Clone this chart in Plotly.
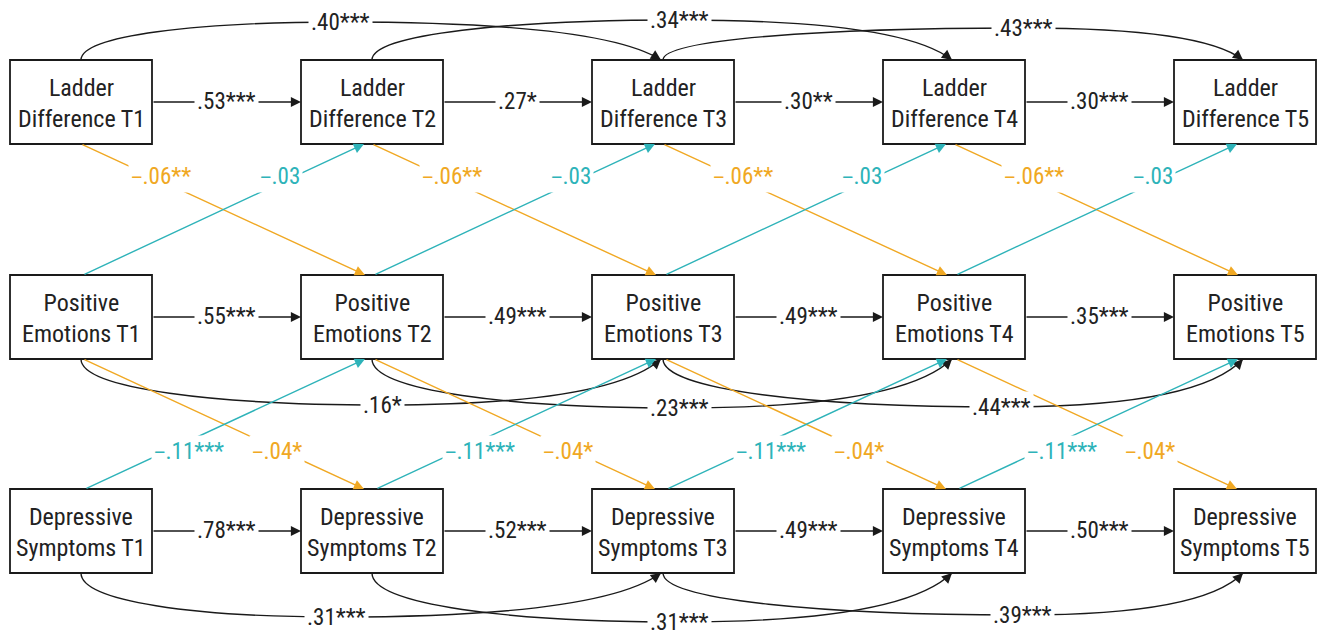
import plotly.graph_objects as go

# ---------------- data ----------------
constructs = ["Ladder<br>Difference", "Positive<br>Emotions", "Depressive<br>Symptoms"]
waves = ["T1", "T2", "T3", "T4", "T5"]

ladder_ar = [".53***", ".27*", ".30**", ".30***"]
positive_ar = [".55***", ".49***", ".49***", ".35***"]
depressive_ar = [".78***", ".52***", ".49***", ".50***"]

ladder_lag2 = [".40***", ".34***", ".43***"]
positive_lag2 = [".16*", ".23***", ".44***"]
depressive_lag2 = [".31***", ".31***", ".39***"]

ladder_to_positive = ["−.06**", "−.06**", "−.06**", "−.06**"]
positive_to_ladder = ["−.03", "−.03", "−.03", "−.03"]
positive_to_depressive = ["−.04*", "−.04*", "−.04*", "−.04*"]
depressive_to_positive = ["−.11***", "−.11***", "−.11***", "−.11***"]

# ---------------- layout / style ----------------
W, H = 1319, 635
COL_LEFT0, COL_STEP, BOX_W, BOX_H = 10, 291, 142, 84
ROW_TOP = [60, 275, 489]
BLACK = "#1a1a1a"
TEXT = "#222222"
ORANGE = "#F0A823"
TEAL = "#2EB3B9"
FONT = "Liberation Sans Narrow, Roboto Condensed, DejaVu Sans Condensed, Arial Narrow, sans-serif"
LW = 1.4

# lag-2 curve shape: (fraction of span where the flat part/label sits, depth beyond box edge)
lag2_shape = {
    0: [(0.447, 38), (0.53, 40), (0.622, 32)],
    1: [(0.52, 46), (0.53, 49), (0.584, 48)],
    2: [(0.44, 44), (0.53, 49), (0.62, 42)],
}


def box(r, c):
    x0 = COL_LEFT0 + c * COL_STEP
    y0 = ROW_TOP[r]
    return x0, y0, x0 + BOX_W, y0 + BOX_H


def cx(c):
    return COL_LEFT0 + c * COL_STEP + BOX_W / 2


shapes = []
arrows = []
labels = []


def arrow(tail, head, color):
    arrows.append(dict(
        x=head[0], y=head[1], ax=tail[0], ay=tail[1],
        xref="x", yref="y", axref="x", ayref="y",
        showarrow=True, arrowhead=2, arrowsize=1.45, arrowwidth=LW,
        arrowcolor=color, text="", standoff=0, startstandoff=0,
    ))


def fmt(text):
    # render the minus sign with a wider dash glyph
    return text.replace("−", '<span style="font-family:\'DejaVu Sans\';">–</span>')


def label(x, y, text, color, size=23):
    labels.append(dict(
        x=x, y=y, xref="x", yref="y", text=fmt(text), showarrow=False,
        font=dict(family=FONT, size=size, color=color),
        bgcolor="white", borderpad=2, xanchor="center", yanchor="middle",
    ))


# boxes
for r, name in enumerate(constructs):
    for c, w in enumerate(waves):
        x0, y0, x1, y1 = box(r, c)
        shapes.append(dict(type="rect", x0=x0, y0=y0, x1=x1, y1=y1, xref="x", yref="y",
                           line=dict(color=BLACK, width=1.8), fillcolor="white", layer="above"))
        labels.append(dict(
            x=(x0 + x1) / 2, y=(y0 + y1) / 2 + 1, xref="x", yref="y",
            text=f"{name} {w}", showarrow=False,
            font=dict(family=FONT, size=24, color=TEXT),
            xanchor="center", yanchor="middle",
        ))

# autoregressive paths
for r, coefs in enumerate([ladder_ar, positive_ar, depressive_ar]):
    for c, txt in enumerate(coefs):
        _, y0, x1, y1 = box(r, c)
        nx0 = box(r, c + 1)[0]
        yc = (y0 + y1) / 2
        arrow((x1, yc), (nx0, yc), BLACK)
        label((x1 + nx0) / 2, yc - 1, txt, TEXT)


# lag-2 curves
def lag2(r, c, txt, frac, depth):
    top_side = (r == 0)
    _, y0, _, y1 = box(r, c)
    edge_y = y0 if top_side else y1
    sx, sy = cx(c), edge_y
    ex, ey = cx(c + 2) - 2, edge_y
    py = edge_y - depth if top_side else edge_y + depth
    px = sx + frac * (ex - sx)
    c1 = (sx, sy + 0.65 * (py - sy))
    c2 = (sx + 0.45 * (px - sx), py)
    D = ex - px
    c3 = (px + 0.55 * D, py)
    c4 = (ex - 0.12 * D, py + 0.35 * (ey - py))
    path = (f"M {sx},{sy} C {c1[0]},{c1[1]} {c2[0]},{c2[1]} {px},{py} "
            f"C {c3[0]},{c3[1]} {c4[0]},{c4[1]} {ex},{ey}")
    shapes.append(dict(type="path", path=path, xref="x", yref="y",
                       line=dict(color=BLACK, width=LW), layer="above"))
    dx, dy = ex - c4[0], ey - c4[1]
    n = (dx * dx + dy * dy) ** 0.5
    arrow((ex - 12 * dx / n, ey - 12 * dy / n), (ex, ey), BLACK)
    return px, py


lag2_labels = []
for r, coefs in enumerate([ladder_lag2, positive_lag2, depressive_lag2]):
    for c, txt in enumerate(coefs):
        frac, depth = lag2_shape[r][c]
        px, py = lag2(r, c, txt, frac, depth)
        lag2_labels.append((px, py, txt))

# cross-lagged paths
TOP_LABEL_Y, BOT_LABEL_Y = 176, 451
cross = []
for c in range(4):
    # ladder -> positive (orange)
    t = (cx(c), box(0, c)[3]); h = (cx(c + 1) - 7, box(1, c + 1)[1])
    cross.append((t, h, ORANGE, ladder_to_positive[c], 0.28, TOP_LABEL_Y))
    # positive -> ladder (teal)
    t = (cx(c) + 2, box(1, c)[1]); h = (cx(c + 1) - 8, box(0, c + 1)[3])
    cross.append((t, h, TEAL, positive_to_ladder[c], 0.70, TOP_LABEL_Y))
    # positive -> depressive (orange)
    t = (cx(c) + 2, box(1, c)[3]); h = (cx(c + 1) - 8, box(2, c + 1)[1])
    cross.append((t, h, ORANGE, positive_to_depressive[c], 0.69, BOT_LABEL_Y))
    # depressive -> positive (teal)
    t = (cx(c) + 4, box(2, c)[1]); h = (cx(c + 1) - 7, box(1, c + 1)[3])
    cross.append((t, h, TEAL, depressive_to_positive[c], 0.37, BOT_LABEL_Y))

for t, h, col, txt, f, ly in cross:
    arrow(t, h, col)
for t, h, col, txt, f, ly in cross:
    label(t[0] + f * (h[0] - t[0]), ly, txt, col)
for px, py, txt in lag2_labels:
    label(px, py, txt, TEXT)

fig = go.Figure()
fig.add_trace(go.Scatter(x=[0, W], y=[0, H], mode="markers", marker=dict(opacity=0),
                         hoverinfo="skip", showlegend=False))
fig.update_layout(
    width=W, height=H, margin=dict(l=0, r=0, t=0, b=0),
    paper_bgcolor="white", plot_bgcolor="white",
    xaxis=dict(range=[0, W], visible=False, fixedrange=True),
    yaxis=dict(range=[H, 0], visible=False, fixedrange=True),
    shapes=shapes, annotations=arrows + labels, showlegend=False,
)
fig.write_html("out.html", config={"displayModeBar": False},
               post_script="document.body.style.margin='0';document.body.style.overflow='hidden';")
